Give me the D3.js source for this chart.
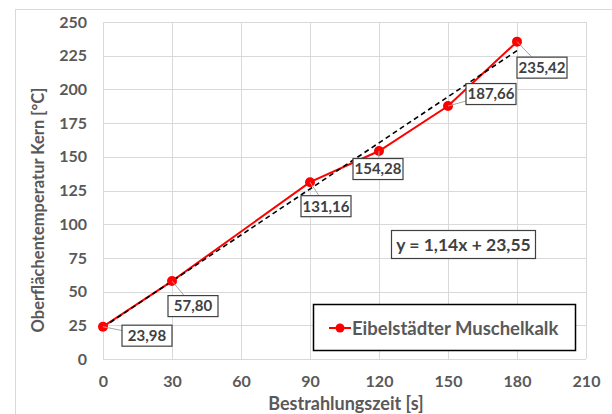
<!DOCTYPE html>
<html>
<head>
<meta charset="utf-8">
<script src="https://cdn.jsdelivr.net/npm/d3@7"></script>
<style>
  html, body { margin: 0; padding: 0; background: #fff; }
  svg { display: block; font-family: Lato, "Open Sans", sans-serif; }
</style>
</head>
<body>
<div id="chart"></div>
<script>
  // measured data
  const times = [0, 30, 90, 120, 150, 180];
  const temps = [23.98, 57.80, 131.16, 154.28, 187.66, 235.42];
  const xTicks = [0, 30, 60, 90, 120, 150, 180, 210];
  const yTicks = [0, 25, 50, 75, 100, 125, 150, 175, 200, 225, 250];
  const trendSlope = 1.14;
  const trendIntercept = 23.55;
  const seriesName = "Eibelstädter Muschelkalk";

  // where each data label box sits, relative to its point (px)
  const labelOffsets = [[44, 9], [21, 25], [16, 24], [-1, 18], [43, -12], [25, 26]];

  const W = 612, H = 414;
  const margin = { top: 22, right: 26, bottom: 55, left: 103 };
  const width = W - margin.left - margin.right;
  const height = H - margin.top - margin.bottom;

  const grey = "#595959";
  const fmt = v => v.toFixed(2).replace(".", ",");

  const x = d3.scaleLinear().domain([0, 210]).range([0, width]);
  const y = d3.scaleLinear().domain([0, 250]).range([height, 0]);

  const svg = d3.select("#chart").append("svg")
    .attr("width", W)
    .attr("height", H);

  // outer chart frame
  svg.append("rect")
    .attr("x", 15.5).attr("y", 9.5)
    .attr("width", W).attr("height", H)
    .attr("fill", "none")
    .attr("stroke", "#d9d9d9");

  const g = svg.append("g")
    .attr("transform", `translate(${margin.left},${margin.top})`);

  // gridlines
  g.append("g")
    .selectAll("line")
    .data(yTicks)
    .join("line")
      .attr("x1", 0).attr("x2", width)
      .attr("y1", d => Math.round(y(d)) + 0.5)
      .attr("y2", d => Math.round(y(d)) + 0.5)
      .attr("stroke", "#d9d9d9");

  g.append("g")
    .selectAll("line")
    .data(xTicks)
    .join("line")
      .attr("y1", 0).attr("y2", height)
      .attr("x1", d => Math.round(x(d)) + 0.5)
      .attr("x2", d => Math.round(x(d)) + 0.5)
      .attr("stroke", "#d9d9d9");

  // axes (labels only, lines are the gridlines)
  const xAxis = g.append("g")
    .attr("transform", `translate(0,${height})`)
    .call(d3.axisBottom(x).tickValues(xTicks).tickSize(0).tickPadding(17));
  const yAxis = g.append("g")
    .call(d3.axisLeft(y).tickValues(yTicks).tickSize(0).tickPadding(16));

  [xAxis, yAxis].forEach(a => {
    a.select(".domain").remove();
    a.selectAll("text")
      .attr("fill", grey)
      .style("font", "bold 16px Lato, sans-serif");
  });

  // axis titles
  svg.append("text")
    .attr("x", 346)
    .attr("y", 410)
    .attr("text-anchor", "middle")
    .attr("fill", grey)
    .style("font", "bold 18px Lato, sans-serif")
    .text("Bestrahlungszeit [s]");

  svg.append("text")
    .attr("transform", "translate(44,210) rotate(-90)")
    .attr("text-anchor", "middle")
    .attr("fill", grey)
    .style("font", "bold 16.5px Lato, sans-serif")
    .text("Oberflächentemperatur Kern [°C]");

  const pts = times.map((t, i) => ({ t, v: temps[i], off: labelOffsets[i] }));

  // series line
  g.append("path")
    .datum(pts)
    .attr("fill", "none")
    .attr("stroke", "#ff0000")
    .attr("stroke-width", 2)
    .attr("d", d3.line().x(d => x(d.t)).y(d => y(d.v)));

  // linear trend line
  const trendX = [0, 180];
  g.append("path")
    .datum(trendX)
    .attr("fill", "none")
    .attr("stroke", "#000")
    .attr("stroke-width", 1.6)
    .attr("stroke-dasharray", "5,3.5")
    .attr("d", d3.line().x(d => x(d)).y(d => y(trendSlope * d + trendIntercept)));

  // markers
  g.append("g")
    .selectAll("circle")
    .data(pts)
    .join("circle")
      .attr("cx", d => x(d.t))
      .attr("cy", d => y(d.v))
      .attr("r", 5)
      .attr("fill", "#ff0000");

  // data labels with leader lines
  const lbl = g.append("g")
    .selectAll("g")
    .data(pts)
    .join("g");

  lbl.append("line")
    .attr("x1", d => x(d.t))
    .attr("y1", d => y(d.v))
    .attr("x2", d => x(d.t) + d.off[0])
    .attr("y2", d => y(d.v) + d.off[1])
    .attr("stroke", "#a6a6a6")
    .attr("stroke-width", 1);

  lbl.append("rect")
    .attr("x", d => x(d.t) + d.off[0] - 25)
    .attr("y", d => y(d.v) + d.off[1] - 10.5)
    .attr("width", 50)
    .attr("height", 21)
    .attr("fill", "#fff")
    .attr("stroke", "#404040")
    .attr("stroke-width", 1.2);

  lbl.append("text")
    .attr("x", d => x(d.t) + d.off[0])
    .attr("y", d => y(d.v) + d.off[1])
    .attr("dy", "0.36em")
    .attr("text-anchor", "middle")
    .attr("fill", "#404040")
    .style("font", "bold 15px Lato, sans-serif")
    .text(d => fmt(d.v));

  // trend equation box
  const eq = svg.append("g").attr("transform", "translate(391,230)");
  eq.append("rect")
    .attr("x", 0.5).attr("y", 0.5)
    .attr("width", 144).attr("height", 28)
    .attr("fill", "#fff")
    .attr("stroke", "#404040")
    .attr("stroke-width", 1.2);
  eq.append("text")
    .attr("x", 72.5).attr("y", 15)
    .attr("dy", "0.36em")
    .attr("text-anchor", "middle")
    .attr("fill", "#404040")
    .style("font", "bold 17.5px Lato, sans-serif")
    .text(`y = ${fmt(trendSlope)}x + ${fmt(trendIntercept)}`);

  // legend
  const leg = svg.append("g").attr("transform", "translate(313,304)");
  leg.append("rect")
    .attr("x", 0.5).attr("y", 0.5)
    .attr("width", 262).attr("height", 46)
    .attr("fill", "#fff")
    .attr("stroke", "#000")
    .attr("stroke-width", 1.5);
  leg.append("line")
    .attr("x1", 16).attr("x2", 38)
    .attr("y1", 24).attr("y2", 24)
    .attr("stroke", "#ff0000")
    .attr("stroke-width", 2);
  leg.append("circle")
    .attr("cx", 27).attr("cy", 24).attr("r", 4.5)
    .attr("fill", "#ff0000");
  leg.append("text")
    .attr("x", 39).attr("y", 24)
    .attr("dy", "0.36em")
    .attr("fill", grey)
    .style("font", "bold 18.5px Lato, sans-serif")
    .text(seriesName);
</script>
</body>
</html>
